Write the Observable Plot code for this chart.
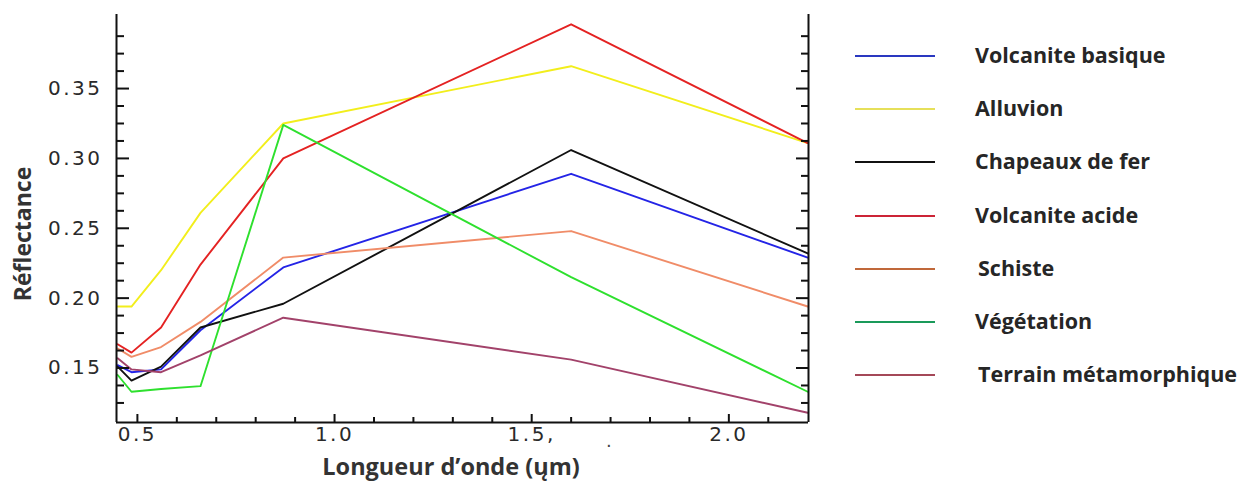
<!DOCTYPE html>
<html>
<head>
<meta charset="utf-8">
<script src="https://cdn.jsdelivr.net/npm/d3@7"></script>
<script src="https://cdn.jsdelivr.net/npm/@observablehq/plot@0.6"></script>
<style>
  body { margin: 0; background: #fff; }
  #wrap { position: relative; width: 1250px; height: 482px; overflow: hidden; background: #fff; }
  #chart { position: absolute; left: 0; top: 0; }
  #chart svg g[aria-label$="tick label"] {
    font-family: "DejaVu Sans", sans-serif; font-size: 20px; letter-spacing: 2.5px; fill: #2a2a2a;
  }
  .title { position: absolute; font-family: "Open Sans", sans-serif; font-weight: 700; color: #333; white-space: nowrap; }
  #ytitle { left: 22px; top: 234px; font-size: 23px; transform: translate(-50%, -50%) rotate(-90deg); }
  #xtitle { left: 451px; top: 466px; font-size: 23.5px; transform: translate(-50%, -50%); }
  #stray { position: absolute; left: 606px; top: 430px; font-family: "DejaVu Sans", sans-serif; font-size: 18px; color: #444; }
  .lg-row { position: absolute; left: 855px; height: 0; }
  .lg-line { position: absolute; left: 0; width: 80px; height: 2px; top: 1px; }
  .lg-text { position: absolute; left: 120px; top: 0; transform: translateY(-50%); font-family: "Open Sans", sans-serif; font-weight: 700; font-size: 21.5px; color: #262626; white-space: nowrap; }
</style>
</head>
<body>
<div id="wrap">
  <div id="chart"></div>
  <div class="title" id="ytitle">Réflectance</div>
  <div class="title" id="xtitle">Longueur d’onde (ųm)</div>
  <div id="stray">.</div>
  <div id="legend"></div>
</div>
<script>
// ---- data ----
const wavelengths = [0.45, 0.485, 0.56, 0.66, 0.87, 1.6, 2.2];
const seriesNames = ["Volcanite basique", "Alluvion", "Chapeaux de fer", "Volcanite acide", "Schiste", "Végétation", "Terrain métamorphique"];
const volcaniteBasique     = [0.152, 0.147, 0.149, 0.177, 0.222, 0.289, 0.229];
const alluvion             = [0.194, 0.194, 0.220, 0.261, 0.325, 0.366, 0.311];
const chapeauxDeFer        = [0.151, 0.141, 0.151, 0.179, 0.196, 0.306, 0.232];
const volcaniteAcide       = [0.167, 0.161, 0.179, 0.224, 0.300, 0.396, 0.311];
const schiste              = [0.164, 0.158, 0.165, 0.183, 0.229, 0.248, 0.194];
const vegetation           = [0.145, 0.133, 0.135, 0.137, 0.324, 0.215, 0.133];
const terrainMetamorphique = [0.157, 0.149, 0.147, 0.159, 0.186, 0.156, 0.118];
const seriesValues = [volcaniteBasique, alluvion, chapeauxDeFer, volcaniteAcide, schiste, vegetation, terrainMetamorphique];
const lineColors   = ["#2424e6", "#f2ee1c", "#111111", "#e42222", "#f08c68", "#2ee02e", "#a2426a"];
const legendColors = ["#2a38c0", "#e6e05a", "#111111", "#cc2436", "#c0683a", "#1a9a5a", "#a44858"];

const xDomain = [0.447, 2.202];
const yDomain = [0.111, 0.403];
const yMajorTicks = [0.15, 0.20, 0.25, 0.30, 0.35];
const yMinorTicks = [0.125, 0.1375, 0.1625, 0.175, 0.1875, 0.2125, 0.225, 0.2375, 0.2625, 0.275, 0.2875, 0.3125, 0.325, 0.3375, 0.3625, 0.375, 0.3875];
const xMajorTicks = [0.5, 1.0, 1.5, 2.0];
const xTickLabels = ["0.5", "1.0", "1.5,", "2.0"];
const xMinorTicks = [0.6, 0.7, 0.8, 0.9, 1.1, 1.2, 1.3, 1.4, 1.6, 1.7, 1.8, 1.9, 2.1];

// ---- tidy table ----
const data = seriesNames.flatMap((name, s) => seriesValues[s].map((v, i) => ({name, wl: wavelengths[i], r: v})));

const ax = {stroke: "#111", strokeWidth: 2, tickFormat: () => "", label: null};

const chart = Plot.plot({
  width: 830, height: 482,
  marginLeft: 116, marginRight: 22, marginTop: 14, marginBottom: 60,
  x: {domain: xDomain},
  y: {domain: yDomain},
  color: {domain: seriesNames, range: lineColors},
  marks: [
    Plot.line(data, {x: "wl", y: "r", z: "name", stroke: "name", strokeWidth: 1.9}),
    Plot.ruleX(xDomain, {stroke: "#111", strokeWidth: 2}),
    Plot.ruleY([yDomain[0]], {stroke: "#111", strokeWidth: 2}),
    Plot.axisY({...ax, anchor: "left", ticks: yMajorTicks, tickSize: -13}),
    Plot.axisY({...ax, anchor: "left", ticks: yMinorTicks, tickSize: -8}),
    Plot.axisY({...ax, anchor: "right", ticks: yMajorTicks, tickSize: -13}),
    Plot.axisY({...ax, anchor: "right", ticks: yMinorTicks, tickSize: -8}),
    Plot.axisX({...ax, anchor: "bottom", ticks: xMajorTicks, tickSize: -8}),
    Plot.axisX({...ax, anchor: "bottom", ticks: xMinorTicks, tickSize: -5}),
    Plot.axisY({anchor: "left", ticks: yMajorTicks, tickSize: 0, tickPadding: 14, tickFormat: d => d.toFixed(2), label: null}),
    Plot.axisX({anchor: "bottom", ticks: xMajorTicks, tickSize: 0, tickPadding: 4, tickFormat: d => xTickLabels[xMajorTicks.indexOf(d)], label: null})
  ]
});
document.getElementById("chart").appendChild(chart);

// ---- legend ----
const legend = document.getElementById("legend");
seriesNames.forEach((name, i) => {
  const row = document.createElement("div");
  row.className = "lg-row";
  row.style.top = (54 + i * 53.2) + "px";
  const ln = document.createElement("div");
  ln.className = "lg-line";
  ln.style.background = legendColors[i];
  const tx = document.createElement("div");
  tx.className = "lg-text";
  tx.textContent = name;
  if (name === "Schiste" || name === "Terrain métamorphique") tx.style.left = "123px";
  row.appendChild(ln);
  row.appendChild(tx);
  legend.appendChild(row);
});
</script>
</body>
</html>
